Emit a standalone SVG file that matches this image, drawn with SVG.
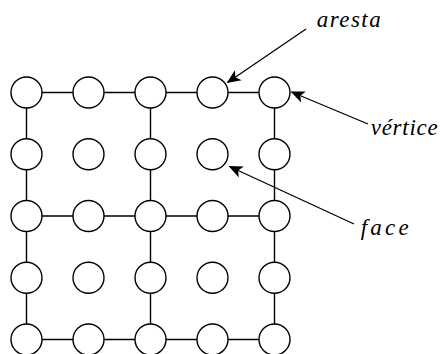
<svg xmlns="http://www.w3.org/2000/svg" width="440" height="354" viewBox="0 0 440 354">
<style>
.n{fill:#fff;stroke:#000;stroke-width:1.4}
.e{stroke:#000;stroke-width:1.4;fill:none}
.a{stroke:#000;stroke-width:1.3;fill:none}
</style>
<defs>
<marker id="ah" markerUnits="userSpaceOnUse" markerWidth="16" markerHeight="14" viewBox="-14 -7 16 14" refX="0" refY="0" orient="auto">
<path d="M1,0 L-13,-6 L-9.5,0 L-13,6 Z" fill="#000"/>
</marker>
</defs>
<g id="edges">
<path class="e" d="M26.5,92.5H274.5M26.5,216H274.5M26.5,339.5H274.5M26.5,92.5V339.5M150.5,92.5V339.5M274.5,92.5V339.5"/>
</g>
<g id="nodes">
<g id="n00"><circle class="n" cx="26.5" cy="92.5" r="15.5"/></g>
<g id="n01"><circle class="n" cx="88.5" cy="92.5" r="15.5"/></g>
<g id="n02"><circle class="n" cx="150.5" cy="92.5" r="15.5"/></g>
<g id="n03"><circle class="n" cx="212.5" cy="92.5" r="15.5"/></g>
<g id="n04"><circle class="n" cx="274.5" cy="92.5" r="15.5"/></g>
<g id="n10"><circle class="n" cx="26.5" cy="154.3" r="15.5"/></g>
<g id="n11"><circle class="n" cx="88.5" cy="154.3" r="15.5"/></g>
<g id="n12"><circle class="n" cx="150.5" cy="154.3" r="15.5"/></g>
<g id="n13"><circle class="n" cx="212.5" cy="154.3" r="15.5"/></g>
<g id="n14"><circle class="n" cx="274.5" cy="154.3" r="15.5"/></g>
<g id="n20"><circle class="n" cx="26.5" cy="216" r="15.5"/></g>
<g id="n21"><circle class="n" cx="88.5" cy="216" r="15.5"/></g>
<g id="n22"><circle class="n" cx="150.5" cy="216" r="15.5"/></g>
<g id="n23"><circle class="n" cx="212.5" cy="216" r="15.5"/></g>
<g id="n24"><circle class="n" cx="274.5" cy="216" r="15.5"/></g>
<g id="n30"><circle class="n" cx="26.5" cy="277.8" r="15.5"/></g>
<g id="n31"><circle class="n" cx="88.5" cy="277.8" r="15.5"/></g>
<g id="n32"><circle class="n" cx="150.5" cy="277.8" r="15.5"/></g>
<g id="n33"><circle class="n" cx="212.5" cy="277.8" r="15.5"/></g>
<g id="n34"><circle class="n" cx="274.5" cy="277.8" r="15.5"/></g>
<g id="n40"><circle class="n" cx="26.5" cy="339.5" r="15.5"/></g>
<g id="n41"><circle class="n" cx="88.5" cy="339.5" r="15.5"/></g>
<g id="n42"><circle class="n" cx="150.5" cy="339.5" r="15.5"/></g>
<g id="n43"><circle class="n" cx="212.5" cy="339.5" r="15.5"/></g>
<g id="n44"><circle class="n" cx="274.5" cy="339.5" r="15.5"/></g>
</g>
<g id="labels" font-family="Liberation Serif, DejaVu Serif, serif" font-style="italic" font-size="23" fill="#000">
<g id="l-aresta">
<line class="a" x1="306" y1="29" x2="227.5" y2="82.5" marker-end="url(#ah)"/>
<text x="316.7" y="26.7" textLength="64" lengthAdjust="spacing">aresta</text>
</g>
<g id="l-vertice">
<line class="a" x1="368" y1="124" x2="291.5" y2="92" marker-end="url(#ah)"/>
<text x="370.7" y="135" textLength="67" lengthAdjust="spacing">vértice</text>
</g>
<g id="l-face">
<line class="a" x1="354" y1="224" x2="229.5" y2="166.5" marker-end="url(#ah)"/>
<text x="360.7" y="235" textLength="48" lengthAdjust="spacing">face</text>
</g>
</g>
</svg>
